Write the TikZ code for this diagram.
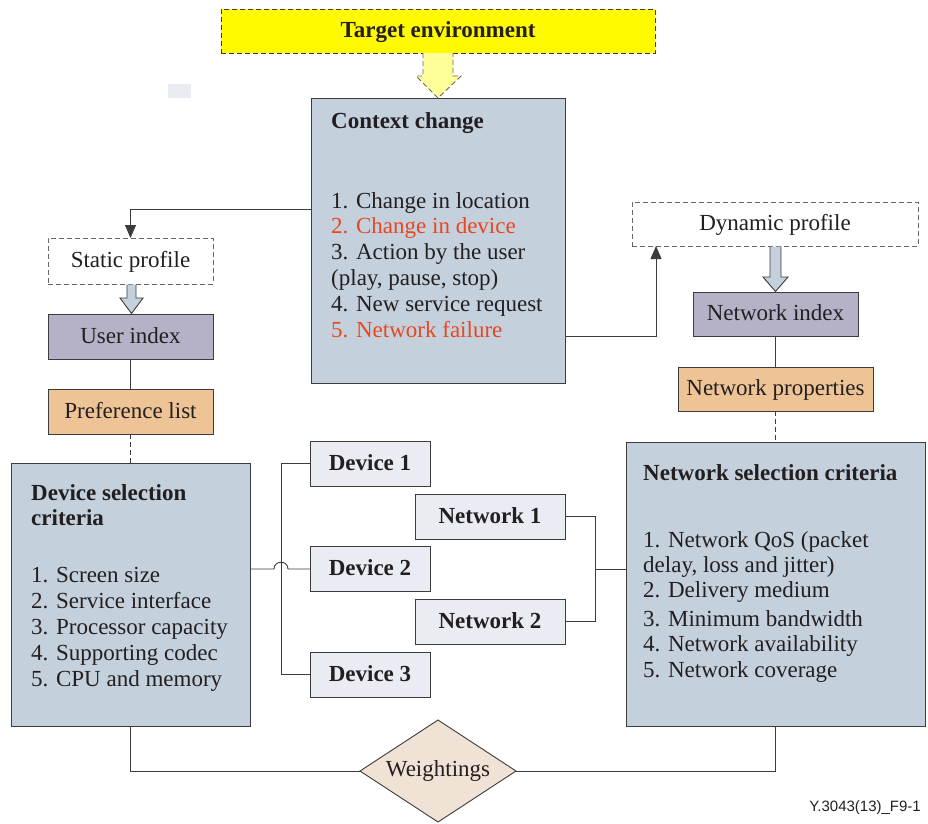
\documentclass[tikz,border=0pt]{standalone}
\usepackage{fontspec}
\setmainfont{Liberation Serif}
\newfontfamily\footfont{Liberation Sans}
\usetikzlibrary{shapes.geometric,arrows.meta}
\definecolor{boxblue}{RGB}{196,208,220}
\definecolor{lav}{RGB}{181,178,200}
\definecolor{peach}{RGB}{238,196,150}
\definecolor{devfill}{RGB}{233,237,243}
\definecolor{tyellow}{RGB}{255,250,0}
\definecolor{ayellow}{RGB}{255,255,153}
\definecolor{wfill}{RGB}{240,226,212}
\definecolor{redtxt}{RGB}{235,70,30}
\definecolor{bordergray}{RGB}{60,60,60}
\definecolor{txtdark}{RGB}{35,31,32}
\begin{document}
\begin{tikzpicture}[x=1pt,y=-1pt,
  every node/.style={text=txtdark,font=\fontsize{23}{26}\selectfont},
  box/.style={draw=bordergray,line width=0.9pt,inner sep=0pt,outer sep=0pt,
    text height=16pt,text depth=3pt},
  dbox/.style={box,dash pattern=on 5pt off 3pt,draw=gray!80!black,fill=white},
  bbox/.style={box,fill=devfill,font=\fontsize{23}{26}\selectfont\bfseries},
  txt/.style={inner sep=0pt,anchor=base west},
  conn/.style={draw=bordergray,line width=0.9pt},
  tip/.style={-{Triangle[width=11pt,length=13pt]}}
]
\useasboundingbox (0,0) rectangle (928,823);
% boxes
\node[box,dash pattern=on 5pt off 3pt,fill=tyellow,minimum width=434pt,minimum height=44pt,
  font=\fontsize{23}{26}\selectfont\bfseries] (target) at (438,31) {Target environment};
\node[box,fill=boxblue,minimum width=254pt,minimum height=285pt] (ctx) at (438,240.5) {};
\fill[devfill] (168,84) rectangle (191,98);
\node[dbox,minimum width=165pt,minimum height=46pt] (static) at (130.5,261) {Static profile};
\node[box,fill=lav,minimum width=165pt,minimum height=45pt] (user) at (130.5,336.5) {User index};
\node[box,fill=peach,minimum width=165pt,minimum height=45pt] (pref) at (130.5,411.5) {Preference list};
\node[box,fill=boxblue,minimum width=239pt,minimum height=263pt] (dcrit) at (130.5,594.5) {};
\node[bbox,minimum width=120pt,minimum height=45pt] (dev1) at (370,463.5) {Device 1};
\node[bbox,minimum width=120pt,minimum height=45pt] (dev2) at (370,569) {Device 2};
\node[bbox,minimum width=120pt,minimum height=45pt] (dev3) at (370,674.5) {Device 3};
\node[bbox,minimum width=150pt,minimum height=45pt] (net1) at (490,516.5) {Network 1};
\node[bbox,minimum width=150pt,minimum height=45pt] (net2) at (490,621.5) {Network 2};
\node[box,fill=boxblue,minimum width=299pt,minimum height=284pt] (ncrit) at (775.5,584) {};
\node[dbox,minimum width=286pt,minimum height=44pt] (dyn) at (775,224) {Dynamic profile};
\node[box,fill=lav,minimum width=165pt,minimum height=44pt] (netidx) at (775.5,314) {Network index};
\node[box,fill=peach,minimum width=195pt,minimum height=44pt] (netprop) at (775.5,389) {Network properties};
\node[diamond,draw=bordergray,line width=0.9pt,fill=wfill,inner sep=0pt,outer sep=0pt,aspect=1.53,
  minimum width=156pt,minimum height=102pt] (wt) at (438,771) {Weightings};
% texts
\node[txt,font=\fontsize{23}{26}\selectfont\bfseries] (ctxt) at (331,128) {Context change};
\foreach \t [count=\i] in {1. Change in location,{\color{redtxt}2. Change in device},
  3. Action by the user,{(play, pause, stop)},4. New service request,{\color{redtxt}5. Network failure}}
  \node[txt] (c\i) at (331,{208+25.8*(\i-1)}) {\t};
\node[txt,font=\fontsize{23}{26}\selectfont\bfseries] (dt1) at (31,500) {Device selection};
\node[txt,font=\fontsize{23}{26}\selectfont\bfseries] (dt2) at (31,525) {criteria};
\foreach \t [count=\i] in {1. Screen size,2. Service interface,3. Processor capacity,4. Supporting codec,5. CPU and memory}
  \node[txt] (d\i) at (31,{582+26*(\i-1)}) {\t};
\node[txt,font=\fontsize{23}{26}\selectfont\bfseries] (nt) at (643,480) {Network selection criteria};
\node[txt] (n1) at (643,547) {1. Network QoS (packet};
\node[txt] (n2) at (643,572) {delay, loss and jitter)};
\node[txt] (n3) at (643,597) {2. Delivery medium};
\node[txt] (n4) at (643,626) {3. Minimum bandwidth};
\node[txt] (n5) at (643,651) {4. Network availability};
\node[txt] (n6) at (643,677) {5. Network coverage};
\node[inner sep=0pt,anchor=base east,font=\fontsize{15}{17}\footfont] (fig) at (921,811) {Y.3043(13)\_F9-1};
% block arrows
\filldraw[fill=ayellow,draw=gray!80!black,line width=0.9pt,dash pattern=on 5pt off 3pt]
  (423,53) -- (423,76) -- (416,76) -- (438,98) -- (461,76) -- (453,76) -- (453,53);
\filldraw[fill=boxblue,draw=bordergray,line width=0.9pt]
  (127,284.5) -- (127,298) -- (120,298) -- (131.5,313.5) -- (143,298) -- (136,298) -- (136,284.5);
\filldraw[fill=boxblue,draw=bordergray,line width=0.9pt]
  (770,246.5) -- (770,277) -- (763,277) -- (775.5,291.5) -- (788,277) -- (781,277) -- (781,246.5);
% connectors
\draw[conn,tip] (ctx.west |- 0,209) -| (static.north);
\draw[conn,tip] (ctx.east |- 0,336) -| (dyn.south -| 656,0);
\draw[conn] (user.south) -- (pref.north);
\draw[conn,dash pattern=on 5pt off 3pt] (pref.south) -- (dcrit.north);
\draw[conn] (netidx.south) -- (netprop.north);
\draw[conn,dash pattern=on 5pt off 3pt] (netprop.south) -- (ncrit.north);
\coordinate (dj1) at (dev1.west -| 281,0);
\coordinate (dj3) at (dev3.west -| 281,0);
\draw[conn] (dev1.west) -- (dj1) -- (dj3) -- (dev3.west);
\draw[conn] (dcrit.east |- dev2.west) -- (274,569) .. controls (274,560) and (288,560) .. (288,569) -- (dev2.west);
\coordinate (nj1) at (net1.east -| 595,0);
\coordinate (nj2) at (net2.east -| 595,0);
\coordinate (nj) at (595,569);
\draw[conn] (net1.east) -- (nj1) -- (nj2) -- (net2.east);
\draw[conn] (nj) -- (ncrit.west |- nj);
\draw[conn] (dcrit.south) |- (wt.west);
\draw[conn] (ncrit.south) |- (wt.east);
\end{tikzpicture}
\end{document}
